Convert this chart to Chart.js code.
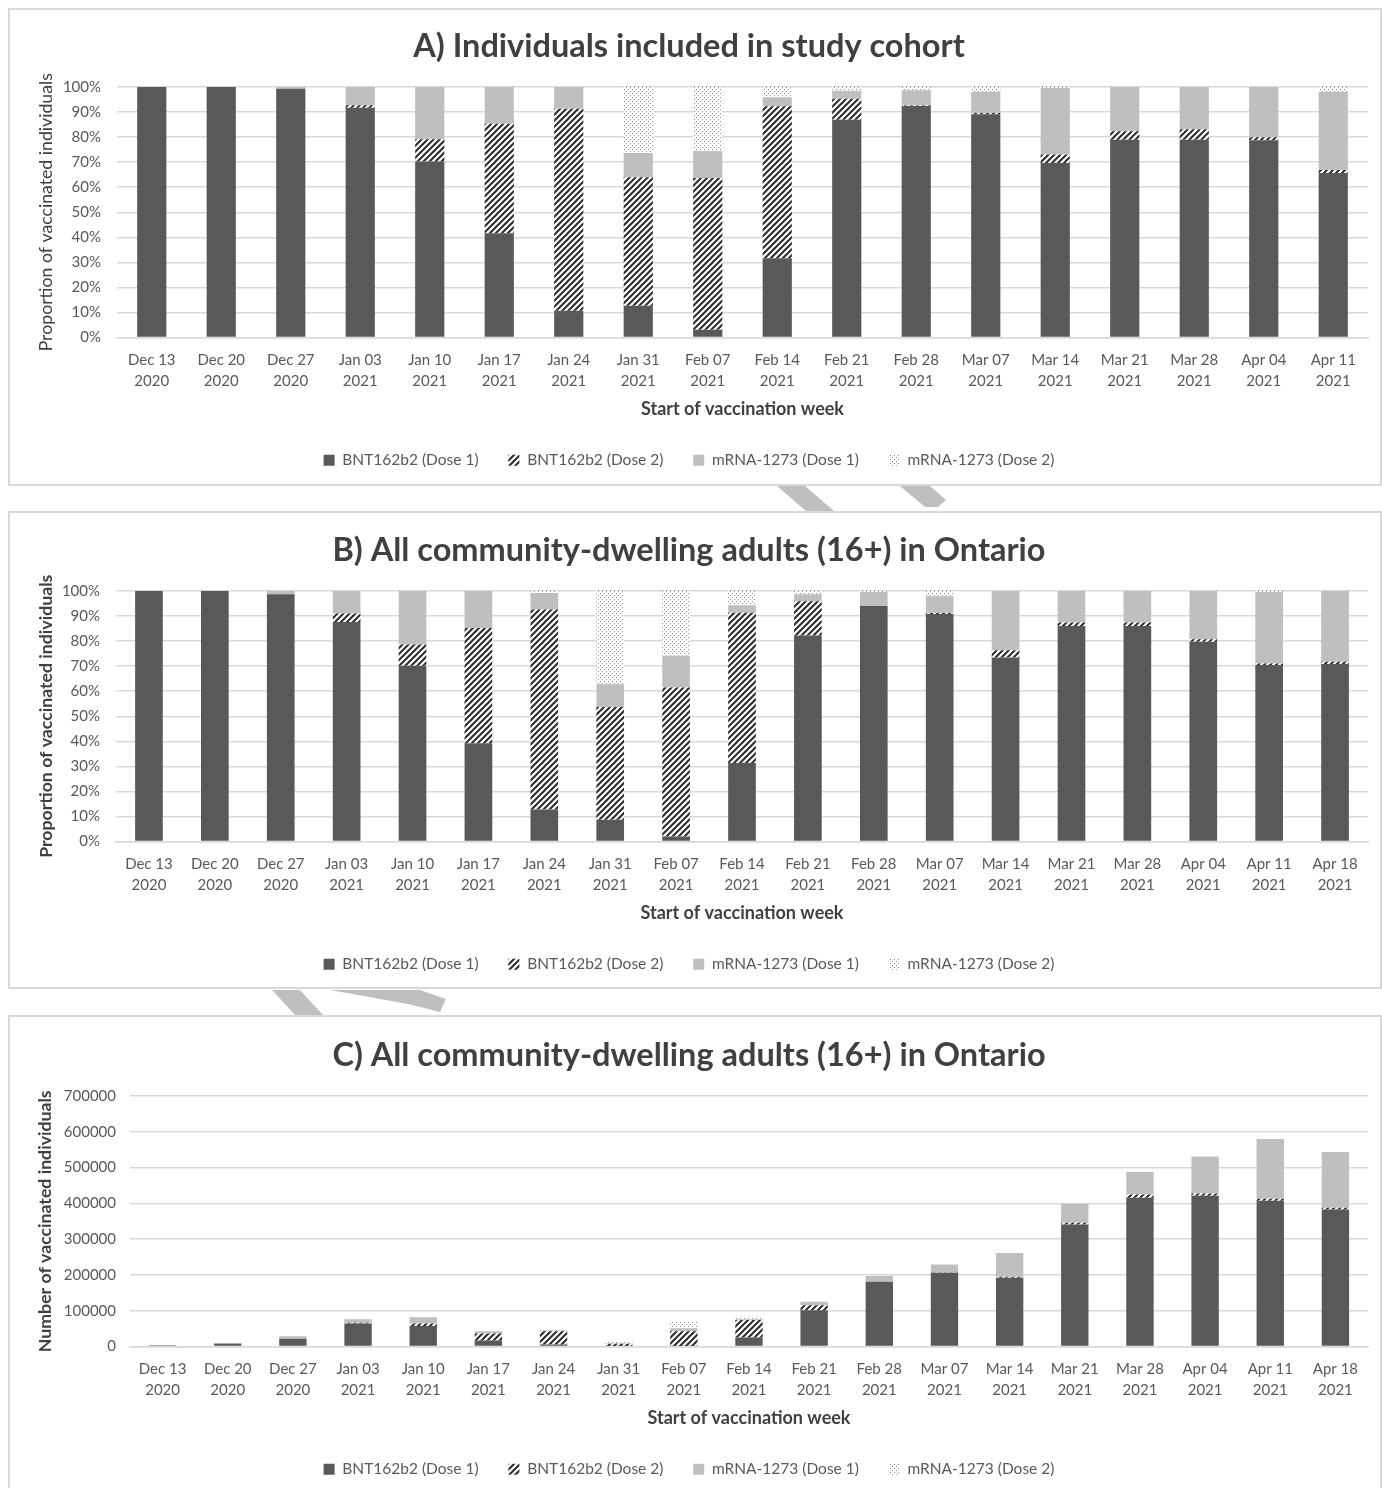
<!DOCTYPE html>
<html>
<head>
<meta charset="utf-8">
<script src="https://cdn.jsdelivr.net/npm/chart.js@4.4.1/dist/chart.umd.min.js"></script>
<style>
  body { margin: 0; background: #fff; width: 1382px; height: 1488px; overflow: hidden; position: relative; font-family: Lato, "Open Sans", sans-serif; }
  .panel { position: absolute; left: 8px; width: 1370px; height: 474px; border: 2px solid #d9d9d9; background: #fff; }
  .panel canvas { position: absolute; left: 0; }
  svg.deco { position: absolute; left: 0; top: 0; }
</style>
</head>
<body>
<svg class="deco" width="1382" height="1488">
  <polygon points="777,486 805,486 834,511 806,511" fill="#bfbfbf"/>
  <polygon points="900,486 930,486 946,500 938,507 925,507" fill="#bfbfbf"/>
  <polygon points="272,990 300,990 323,1015 295,1015" fill="#bfbfbf"/>
  <polygon points="330,990 420,990 446,999 440,1012 408,1004" fill="#bfbfbf"/>
</svg>
<div class="panel" style="top:8px"><canvas id="chartA" width="1370" height="474" style="top:1px"></canvas></div>
<div class="panel" style="top:511px"><canvas id="chartB" width="1370" height="474" style="top:2px"></canvas></div>
<div class="panel" style="top:1015px"><canvas id="chartC" width="1370" height="474" style="top:3px"></canvas></div>
<script>
// week labels
const weeksA = [
    ["Dec 13", "2020"], ["Dec 20", "2020"], ["Dec 27", "2020"], ["Jan 03", "2021"],
    ["Jan 10", "2021"], ["Jan 17", "2021"], ["Jan 24", "2021"], ["Jan 31", "2021"],
    ["Feb 07", "2021"], ["Feb 14", "2021"], ["Feb 21", "2021"], ["Feb 28", "2021"],
    ["Mar 07", "2021"], ["Mar 14", "2021"], ["Mar 21", "2021"], ["Mar 28", "2021"],
    ["Apr 04", "2021"], ["Apr 11", "2021"]
];
const weeksBC = weeksA.concat([["Apr 18", "2021"]]);

const seriesNames = ["BNT162b2 (Dose 1)", "BNT162b2 (Dose 2)", "mRNA-1273 (Dose 1)", "mRNA-1273 (Dose 2)"];

// A) study cohort, % per week
const bntD1A  = [100, 100, 99.3, 91.7, 70.3, 41.6, 10.7, 12.7, 3.1, 31.6, 86.9, 92.4, 89.1, 69.7, 78.9, 78.9, 78.7, 65.7];
const bntD2A  = [0, 0, 0, 1.0, 8.8, 43.7, 80.6, 51.3, 60.6, 60.7, 8.4, 0.2, 0.5, 3.4, 3.4, 4.2, 1.2, 1.2];
const mrnaD1A = [0, 0, 0.7, 7.3, 20.9, 14.7, 8.7, 9.7, 10.8, 3.6, 3.2, 6.1, 8.4, 26.5, 17.7, 16.9, 20.1, 31.1];
const mrnaD2A = [0, 0, 0, 0, 0, 0, 0, 26.3, 25.5, 4.1, 1.5, 1.3, 2.0, 0.4, 0, 0, 0, 2.0];

// B) all community-dwelling adults, % per week
const bntD1B  = [100, 100, 98.7, 87.6, 70.2, 39.2, 12.8, 8.7, 2.0, 31.3, 82.2, 94.0, 90.8, 73.5, 86.0, 86.0, 79.7, 70.5, 70.9];
const bntD2B  = [0, 0, 0, 3.4, 8.4, 46.0, 79.8, 45.0, 59.5, 60.0, 13.7, 0, 0.4, 2.8, 1.4, 1.4, 1.0, 0.6, 0.9];
const mrnaD1B = [0, 0, 1.3, 9.0, 21.4, 14.8, 6.6, 9.1, 12.7, 3.0, 2.8, 5.6, 6.7, 23.7, 12.6, 12.6, 19.3, 28.5, 28.2];
const mrnaD2B = [0, 0, 0, 0, 0, 0, 0.8, 37.2, 25.8, 5.7, 1.3, 0.4, 2.1, 0, 0, 0, 0, 0.4, 0];

// C) all community-dwelling adults, counts per week
const bntD1C  = [3800, 8300, 22000, 64000, 57500, 16800, 5800, 1300, 1400, 25400, 101600, 180800, 206000, 192000, 341000, 415700, 421300, 407300, 383000];
const bntD2C  = [0, 0, 0, 2500, 6500, 19700, 36500, 6500, 41000, 48600, 14000, 0, 800, 2800, 4800, 9300, 6500, 5600, 4700];
const mrnaD1C = [0, 300, 6500, 9500, 17500, 6300, 3000, 1300, 8800, 2400, 9300, 15900, 22500, 66200, 53100, 62400, 103400, 166800, 155700];
const mrnaD2C = [0, 0, 0, 0, 0, 0, 400, 5400, 17800, 4600, 0, 0, 0, 0, 0, 0, 0, 0, 0];

const FONT = "Lato, 'Open Sans', sans-serif";

// fill patterns
function hatchPattern() {
    const c = document.createElement("canvas");
    c.width = 6; c.height = 6;
    const x = c.getContext("2d");
    x.fillStyle = "#ffffff";
    x.fillRect(0, 0, 6, 6);
    x.strokeStyle = "#2b2b2b";
    x.lineWidth = 2;
    x.beginPath();
    x.moveTo(-1, 7); x.lineTo(7, -1);
    x.moveTo(-4, 4); x.lineTo(4, -4);
    x.moveTo(2, 10); x.lineTo(10, 2);
    x.stroke();
    return x.createPattern(c, "repeat");
}
function dotPattern() {
    const c = document.createElement("canvas");
    c.width = 4; c.height = 4;
    const x = c.getContext("2d");
    x.fillStyle = "#ffffff";
    x.fillRect(0, 0, 4, 4);
    x.fillStyle = "#8a8a8a";
    x.fillRect(0, 0, 1, 1);
    x.fillRect(2, 2, 1, 1);
    return x.createPattern(c, "repeat");
}

function buildDatasets(d1, d2, m1, m2) {
    const fills = ["#595959", hatchPattern(), "#bfbfbf", dotPattern()];
    return [d1, d2, m1, m2].map(function (vals, i) {
        return {
            label: seriesNames[i],
            data: vals,
            backgroundColor: fills[i],
            borderWidth: 0,
            barPercentage: 0.42,
            categoryPercentage: 1
        };
    });
}

// default legend items, with extra room after each one
function spacedLabels(chart) {
    const items = Chart.defaults.plugins.legend.labels.generateLabels(chart);
    items.forEach(function (it, i) {
        if (i < items.length - 1) it.text = it.text + "     ";
    });
    return items;
}

function makeChart(id, title, labels, datasets, yTitle, yBold, yScale, g) {
    return new Chart(document.getElementById(id), {
        type: "bar",
        data: { labels: labels, datasets: datasets },
        options: {
            responsive: false,
            animation: false,
            layout: { padding: { left: 0, right: 12, top: 0, bottom: 7 } },
            plugins: {
                tooltip: { enabled: false },
                title: {
                    display: true,
                    text: title,
                    color: "#404040",
                    font: { family: FONT, size: 32.5, weight: "bold", lineHeight: 1.2 },
                    padding: { top: 16, bottom: 21 }
                },
                legend: {
                    position: "bottom",
                    labels: {
                        color: "#595959",
                        font: { family: FONT, size: 15.5 },
                        boxWidth: 11,
                        boxHeight: 11,
                        padding: 10,
                        generateLabels: spacedLabels
                    }
                }
            },
            scales: {
                x: {
                    stacked: true,
                    grid: { display: false, drawTicks: false },
                    border: { color: "#d9d9d9", width: 1.5 },
                    ticks: {
                        color: "#595959",
                        font: { family: FONT, size: 15, lineHeight: 1.4 },
                        padding: 12,
                        autoSkip: false,
                        maxRotation: 0
                    },
                    title: {
                        display: true,
                        text: "Start of vaccination week",
                        color: "#404040",
                        font: { family: FONT, size: 18, weight: "bold", lineHeight: 1.2 },
                        padding: { top: 0, bottom: 23 }
                    },
                    afterFit: function (s) { s.height = 105; }
                },
                y: Object.assign({
                    stacked: true,
                    grid: { color: "#d9d9d9", lineWidth: 1.5, drawTicks: false },
                    border: { display: false },
                    title: {
                        display: true,
                        text: yTitle,
                        color: "#404040",
                        font: { family: FONT, size: 17.7, weight: yBold ? "bold" : "normal", lineHeight: 1.2 },
                        padding: { top: g.titlePad, bottom: 0 }
                    },
                    afterFit: function (s) { s.width = g.yWidth; }
                }, yScale)
            }
        }
    });
}

function pctScale(pad) {
    return {
        min: 0, max: 100,
        ticks: {
            stepSize: 10,
            color: "#595959",
            font: { family: FONT, size: 15 },
            padding: pad,
            callback: function (v) { return v + "%"; }
        }
    };
}

makeChart("chartA", "A) Individuals included in study cohort", weeksA,
    buildDatasets(bntD1A, bntD2A, mrnaD1A, mrnaD2A),
    "Proportion of vaccinated individuals", false, pctScale(16), { titlePad: 26, yWidth: 107 });

makeChart("chartB", "B) All community-dwelling adults (16+) in Ontario", weeksBC,
    buildDatasets(bntD1B, bntD2B, mrnaD1B, mrnaD2B),
    "Proportion of vaccinated individuals", true, pctScale(16), { titlePad: 25.5, yWidth: 106 });

makeChart("chartC", "C) All community-dwelling adults (16+) in Ontario", weeksBC,
    buildDatasets(bntD1C, bntD2C, mrnaD1C, mrnaD2C),
    "Number of vaccinated individuals", true, {
        min: 0, max: 700000,
        ticks: {
            stepSize: 100000,
            color: "#595959",
            font: { family: FONT, size: 15 },
            padding: 14,
            callback: function (v) { return String(v); }
        }
    }, { titlePad: 24.5, yWidth: 120 });
</script>
</body>
</html>
